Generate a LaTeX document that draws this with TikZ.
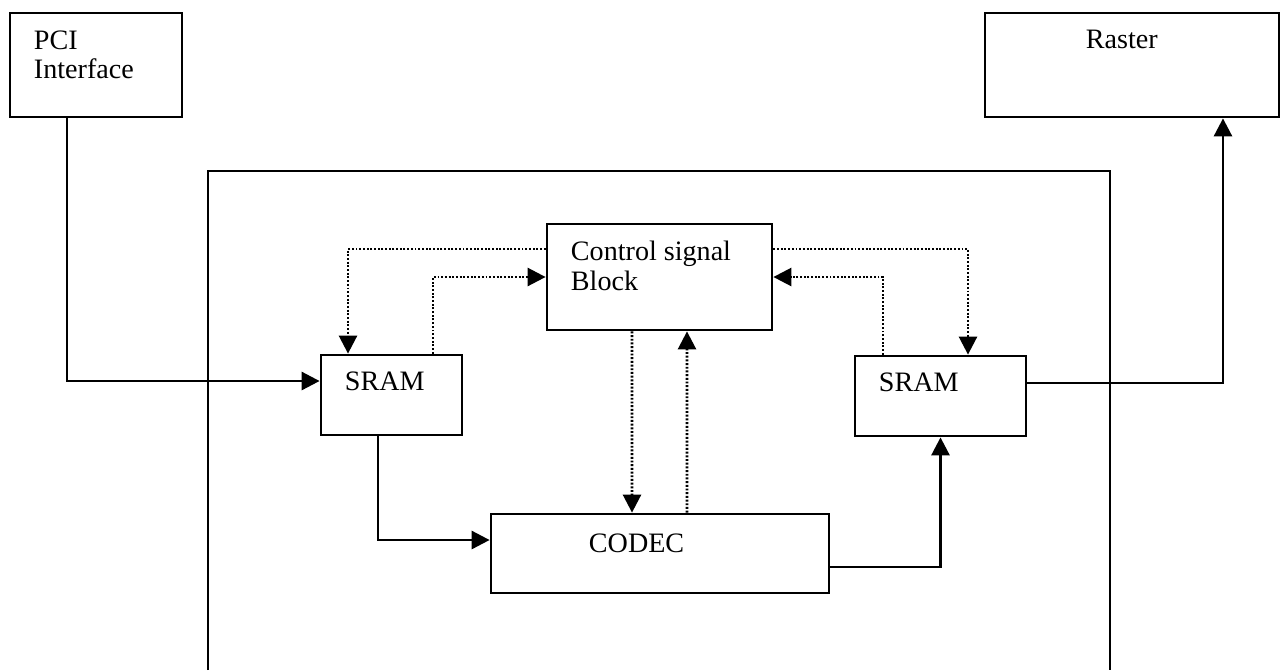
\documentclass[tikz,border=0pt]{standalone}
\usepackage{fontspec}
\setmainfont{Liberation Serif}
\usepackage{tikz}
\usetikzlibrary{arrows.meta,positioning}

\begin{document}
\begin{tikzpicture}[
  x=0.02cm, y=-0.02cm,
  every node/.style={font=\fontsize{16}{17}\selectfont},
  box/.style={draw, line width=1.6pt, inner sep=0pt, fill=white},
  tag/.style={anchor=north west, align=left, inner sep=0pt, xshift=0.5cm, yshift=-0.37cm},
  arrow/.style={-{Triangle[length=0.36cm, width=0.36cm]}, line width=1.6pt},
  ctrlarrow/.style={-{Triangle[length=0.36cm, width=0.36cm]}, line width=1.5pt, dash pattern=on 1.1pt off 1pt}
]
  \useasboundingbox (0,0) rectangle (1288,670);

  % Board outline (open at the bottom)
  \draw[line width=1.4pt] (208,670) |- (1110,171) -- (1110,670);

  % Nodes
  \node (pci) [box, minimum width=3.44cm, minimum height=2.08cm,
    label={[tag]north west:PCI\\Interface}] at (96,65) {};
  \node (raster) [box, minimum width=5.88cm, minimum height=2.08cm,
    label={[tag, xshift=1.54cm]north west:Raster}] at (1132,65) {};
  \node (ctrl) [box, minimum width=4.5cm, minimum height=2.12cm,
    label={[tag]north west:Control signal\\Block}] at (659.5,277) {};
  \node (sramL) [box, minimum width=2.82cm, minimum height=1.6cm,
    label={[tag, yshift=0.02cm]north west:SRAM}] at (391.5,395) {};
  \node (sramR) [box, minimum width=3.42cm, minimum height=1.6cm,
    label={[tag, yshift=0.02cm]north west:SRAM}] at (940.5,396) {};
  \node (codec) [box, minimum width=6.76cm, minimum height=1.58cm,
    label={[tag, xshift=1.48cm, yshift=-0.05cm]north west:CODEC}] at (660,553.5) {};

  % Data paths
  \draw [arrow] ([xshift=-0.58cm]pci.south) |- ([yshift=0.28cm]sramL.west);
  \draw [arrow] ([xshift=-0.27cm]sramL.south) |- ([yshift=0.27cm]codec.west);
  \draw [arrow] ([yshift=-0.27cm]codec.east) -| (sramR.south);
  \draw [arrow] ([yshift=0.26cm]sramR.east) -| ([xshift=1.82cm]raster.south);

  % Control paths
  \draw [ctrlarrow] ([yshift=0.56cm]ctrl.west) -| ([xshift=-0.87cm]sramL.north);
  \draw [ctrlarrow] ([xshift=0.83cm]sramL.north) |- (ctrl.west);
  \draw [ctrlarrow] ([yshift=0.56cm]ctrl.east) -| ([xshift=0.55cm]sramR.north);
  \draw [ctrlarrow] ([xshift=-1.15cm]sramR.north) |- (ctrl.east);
  \draw [ctrlarrow] ([xshift=-0.55cm]ctrl.south) -- ([xshift=-0.56cm]codec.north);
  \draw [ctrlarrow] ([xshift=0.54cm]codec.north) -- ([xshift=0.55cm]ctrl.south);
\end{tikzpicture}
\end{document}
